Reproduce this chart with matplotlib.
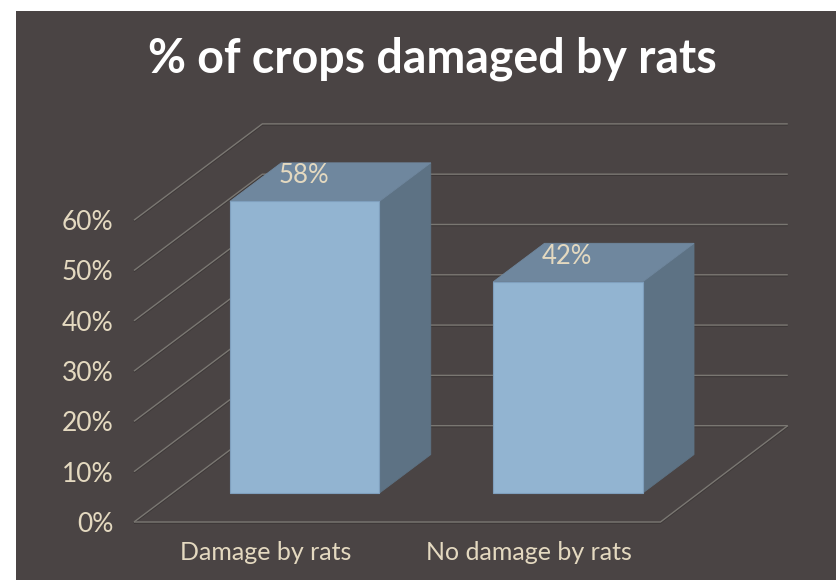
import matplotlib
matplotlib.use('Agg')
import matplotlib.pyplot as plt
import matplotlib.patheffects as pe
from matplotlib.patches import Polygon

plt.rcParams['font.family'] = ['Lato', 'DejaVu Sans']

categorias = ['Damage by rats', 'No damage by rats']
valores = [58, 42]
ticks_y = [0, 10, 20, 30, 40, 50, 60]
etiquetas_y = ['0%', '10%', '20%', '30%', '40%', '50%', '60%']
titulo = '% of crops damaged by rats'

# colores
fondo = '#4a4444'
crema = '#e4d9c0'
rejilla = '#7a7772'
frente = '#92b4d1'
arriba = '#6f879e'
lado = '#5d7284'

# perspectiva: cuanto se mueve un punto al ir del frente (0) al fondo (1)
fondo_x = 0.4875
fondo_y = 19.15
ancho = 0.57
d1 = 0.3
d2 = 0.7

W, H = 837, 580
fig = plt.figure(figsize=(W / 100, H / 100), dpi=100, facecolor='white')

# panel oscuro
panel = fig.add_axes([16 / W, 0, (W - 16) / W, (H - 11) / H], facecolor=fondo)
panel.set_xticks([])
panel.set_yticks([])
for s in panel.spines.values():
    s.set_visible(False)

# ejes: de x=134 a 788 px, de y=522 a 123 px
ax = fig.add_axes([134 / W, (H - 522) / H, 654 / W, 399 / H])
ax.patch.set_visible(False)
ax.set_xlim(-0.5, -0.5 + 654 / 263.25)
ax.set_ylim(0, 399 / 5.03)
for s in ax.spines.values():
    s.set_visible(False)


def p(x, y, d):
    return x + d * fondo_x, y + d * fondo_y


x_izq = -0.5
x_der = 1.5
sombra = [pe.SimpleLineShadow(offset=(0, -0.8), shadow_color='#332f2f', alpha=0.6), pe.Normal()]

# paredes: lineas de la izquierda y del fondo
for t in ticks_y:
    a = p(x_izq, t, 0)
    b = p(x_izq, t, 1)
    c = p(x_der - 0.004, t, 1)
    ax.plot([a[0], b[0], c[0]], [a[1], b[1], c[1]], color=rejilla, lw=1.0, zorder=1,
            solid_joinstyle='miter', solid_capstyle='butt', clip_on=False, path_effects=sombra)

# piso
a = p(x_izq, 0, 0)
b = p(x_der, 0, 0)
c = p(x_der - 0.004, 0, 1)
ax.plot([a[0], b[0], c[0]], [a[1], b[1], c[1]], color=rejilla, lw=1.0, zorder=1,
        solid_joinstyle='miter', solid_capstyle='butt', clip_on=False, path_effects=sombra)

# barras
for i, v in enumerate(valores):
    x0 = i - ancho / 2 + 0.003
    x1 = i + ancho / 2 + 0.001
    cara = [p(x0, 0, d1), p(x1, 0, d1), p(x1, v, d1), p(x0, v, d1)]
    tapa = [p(x0, v, d1), p(x1, v, d1), p(x1, v, d2), p(x0, v, d2)]
    costado = [p(x1, 0, d1), p(x1, 0, d2), p(x1, v, d2), p(x1, v, d1)]
    ax.add_patch(Polygon(costado, closed=True, fc=lado, ec=lado, lw=0.6, zorder=3))
    ax.add_patch(Polygon(tapa, closed=True, fc=arriba, ec=arriba, lw=0.6, zorder=3))
    ax.add_patch(Polygon(cara, closed=True, fc=frente, ec='#7f9fbd', lw=0.8, zorder=4))
    xt, yt = p(i, v, d1)
    ax.annotate('%d%%' % v, (xt, yt), xytext=(0, 18.5), textcoords='offset points',
                ha='center', va='center', color=crema, fontsize=18.5, zorder=5)

ax.set_xticks([0, 1])
ax.set_xticklabels(categorias)
ax.set_yticks(ticks_y)
ax.set_yticklabels(etiquetas_y)
ax.tick_params(axis='x', length=0, pad=14, labelsize=18, labelcolor=crema)
ax.tick_params(axis='y', length=0, pad=15, labelsize=19, labelcolor=crema)

fig.text(432.5 / W, 1 - 59 / H, titulo, ha='center', va='center', color='white',
         fontsize=33.5, fontweight='bold')

fig.savefig('out.png', dpi=100)
